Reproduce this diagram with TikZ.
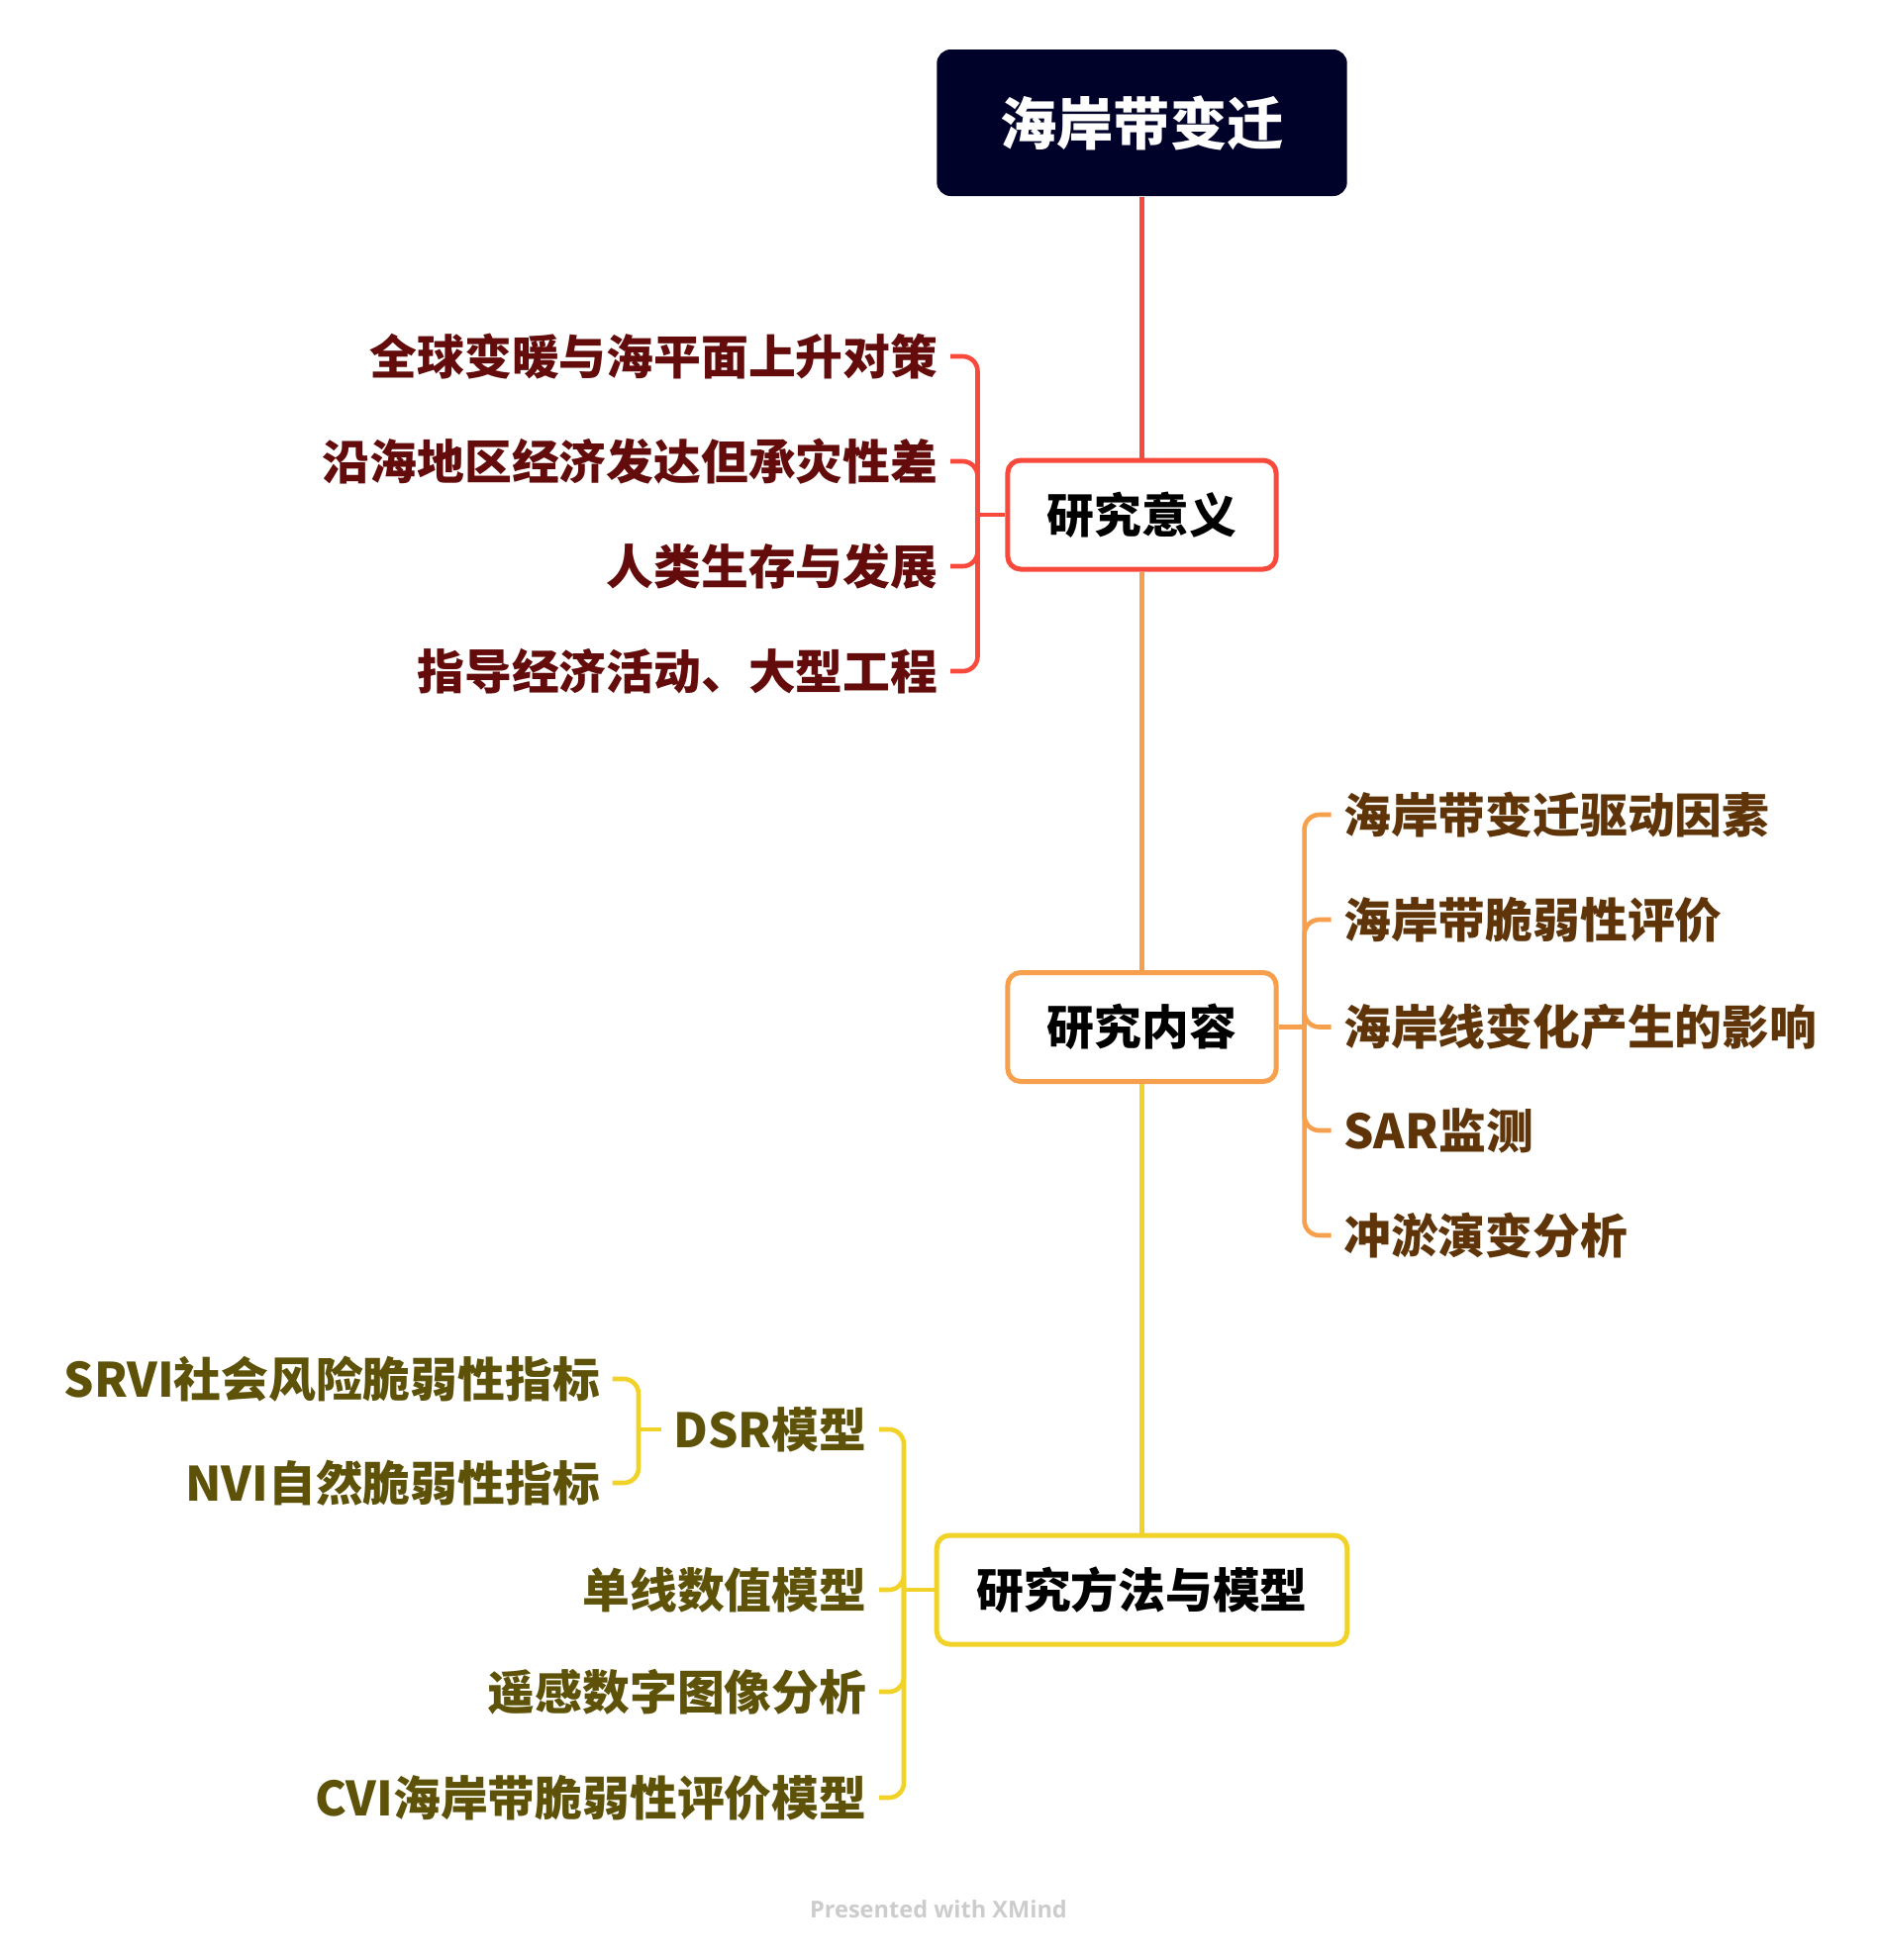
\documentclass[tikz,border=0pt]{standalone}
\usepackage{fontspec}
\setmainfont{Noto Sans CJK SC}
\newfontfamily\footfont{Open Sans}
\usetikzlibrary{positioning}
\definecolor{rootfill}{HTML}{000229}
\definecolor{redline}{HTML}{F74A3D}
\definecolor{orangeline}{HTML}{F6A04D}
\definecolor{yellowline}{HTML}{F0D228}
\definecolor{redtext}{HTML}{640C0C}
\definecolor{orangetext}{HTML}{5E3408}
\definecolor{yellowtext}{HTML}{5E5208}
\definecolor{footgray}{HTML}{CCCCCC}

\begin{document}
\begin{tikzpicture}[x=0.1mm,y=-0.1mm,
  root/.style={fill=rootfill, text=white, rounded corners=1.4mm, inner xsep=6.4mm, minimum height=14.8mm, font=\bfseries\fontsize{16.3}{19}\selectfont},
  topic/.style={draw, line width=0.5mm, fill=white, rounded corners=1.3mm, inner xsep=4mm, minimum height=11mm, font=\bfseries\fontsize{13.6}{16}\selectfont},
  sub/.style={inner xsep=1.2mm, inner ysep=0pt, font=\bfseries\fontsize{13.6}{16}\selectfont},
  link/.style={line width=0.46mm, rounded corners=1.5mm}]
\useasboundingbox (0,0) rectangle (1896,1980);

\node[root] (root) at (1153.5,124) {海岸带变迁};
\node[topic, draw=redline] (yiyi) at (1153.5,520) {研究意义};
\node[topic, draw=orangeline] (neirong) at (1153.5,1037.5) {研究内容};
\node[topic, draw=yellowline] (fangfa) at (1153.5,1606) {研究方法与模型};

\draw[link, redline] (root.south) -- (yiyi.north);
\draw[link, orangeline] (yiyi.south) -- (neirong.north);
\draw[link, yellowline] (neirong.south) -- (fangfa.north);

% 研究意义
\node[sub, text=redtext, anchor=east] (yy1) at (960,360) {全球变暖与海平面上升对策};
\node[sub, text=redtext, anchor=east] (yy2) at (960,466) {沿海地区经济发达但承灾性差};
\node[sub, text=redtext, anchor=east] (yy3) at (960,572) {人类生存与发展};
\node[sub, text=redtext, anchor=east] (yy4) at (960,678) {指导经济活动、大型工程};
\coordinate (yyj) at (987.5,520);
\begin{scope}[link, redline]
\draw (yiyi.west) -- (yyj);
\draw (yyj) |- (yy1.east);
\draw (yyj) |- (yy2.east);
\draw (yyj) |- (yy3.east);
\draw (yyj) |- (yy4.east);
\end{scope}

% 研究内容
\node[sub, text=orangetext, anchor=west] (nr1) at (1344.6,823) {海岸带变迁驱动因素};
\node[sub, text=orangetext, anchor=west] (nr2) at (1344.6,929) {海岸带脆弱性评价};
\node[sub, text=orangetext, anchor=west] (nr3) at (1344.6,1037.5) {海岸线变化产生的影响};
\node[sub, text=orangetext, anchor=west] (nr4) at (1344.6,1142) {SAR监测};
\node[sub, text=orangetext, anchor=west] (nr5) at (1344.6,1248) {冲淤演变分析};
\coordinate (nrj) at (1317.6,1037.5);
\begin{scope}[link, orangeline]
\draw (neirong.east) -- (nrj);
\draw (nrj) |- (nr1.west);
\draw (nrj) |- (nr2.west);
\draw (nrj) |- (nr3.west);
\draw (nrj) |- (nr4.west);
\draw (nrj) |- (nr5.west);
\end{scope}

% 研究方法与模型
\node[sub, text=yellowtext, anchor=east] (ff1) at (888,1444) {DSR模型};
\node[sub, text=yellowtext, anchor=east] (ff2) at (888,1606) {单线数值模型};
\node[sub, text=yellowtext, anchor=east] (ff3) at (888,1709) {遥感数字图像分析};
\node[sub, text=yellowtext, anchor=east] (ff4) at (888,1816) {CVI海岸带脆弱性评价模型};
\coordinate (ffj) at (913,1606);
\begin{scope}[link, yellowline]
\draw (fangfa.west) -- (ffj);
\draw (ffj) |- (ff1.east);
\draw (ffj) |- (ff2.east);
\draw (ffj) |- (ff3.east);
\draw (ffj) |- (ff4.east);
\end{scope}

% DSR模型
\node[sub, text=yellowtext, anchor=east] (dsr1) at (618.6,1393) {SRVI社会风险脆弱性指标};
\node[sub, text=yellowtext, anchor=east] (dsr2) at (618.6,1498) {NVI自然脆弱性指标};
\coordinate (dsrj) at (645,1444);
\begin{scope}[link, yellowline]
\draw (ff1.west) -- (dsrj);
\draw (dsrj) |- (dsr1.east);
\draw (dsrj) |- (dsr2.east);
\end{scope}

\node[text=footgray, font=\footfont\bfseries\fontsize{6.7}{8}\selectfont] (credit) at (948,1929) {Presented with XMind};
\end{tikzpicture}
\end{document}
